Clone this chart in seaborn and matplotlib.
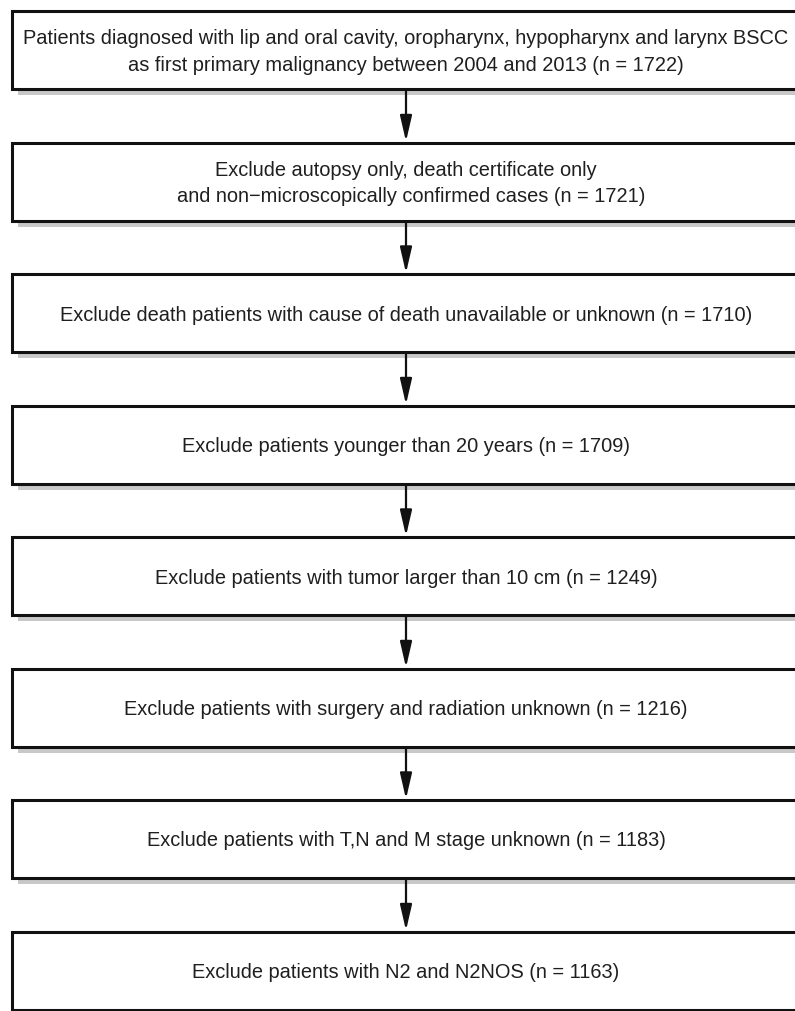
import matplotlib
matplotlib.use('Agg')
import matplotlib.pyplot as plt
from matplotlib.patches import Rectangle
import seaborn as sns

# Flowchart steps (text of each box) and remaining patient counts
STEPS = [
    "Patients diagnosed with lip and oral cavity, oropharynx, hypopharynx and larynx BSCC\n"
    "as first primary malignancy between 2004 and 2013",
    "Exclude autopsy only, death certificate only\n"
    "  and non\u2212microscopically confirmed cases",
    "Exclude death patients with cause of death unavailable or unknown",
    "Exclude patients younger than 20 years",
    "Exclude patients with tumor larger than 10 cm",
    "Exclude patients with surgery and radiation unknown",
    "Exclude patients with T,N and M stage unknown",
    "Exclude patients with N2 and N2NOS",
]
COUNTS = [1722, 1721, 1710, 1709, 1249, 1216, 1183, 1163]

# Layout (pixel units, y grows downward)
W, H = 795, 1012
BOX_LEFT, BOX_RIGHT = 12, 800
BOX_TOP0, PITCH, BOX_H = 12, 131.5, 78
SHADOW = 6

sns.set_theme(style='white')
plt.rcParams['font.family'] = ['Liberation Sans', 'DejaVu Sans']

fig = plt.figure(figsize=(W / 100, H / 100), dpi=100)
ax = fig.add_axes([0, 0, 1, 1])
ax.set_xlim(0, W)
ax.set_ylim(H, 0)
ax.axis('off')

cx = (BOX_LEFT + BOX_RIGHT) / 2
for i, (step, n) in enumerate(zip(STEPS, COUNTS)):
    top = BOX_TOP0 + i * PITCH
    # drop shadow
    ax.add_patch(Rectangle((BOX_LEFT + SHADOW, top + SHADOW), BOX_RIGHT - BOX_LEFT, BOX_H,
                           facecolor='#c8c8c8', edgecolor='none', zorder=1))
    ax.add_patch(Rectangle((BOX_LEFT, top), BOX_RIGHT - BOX_LEFT, BOX_H,
                           facecolor='white', edgecolor='#111111', linewidth=2.2, zorder=2))
    ax.text(cx, top + BOX_H / 2 + 1, f"{step} (n = {n})", ha='center', va='center',
            fontsize=14.4, color='#1f1f1f', linespacing=1.5, zorder=3)
    if i < len(STEPS) - 1:
        nxt = BOX_TOP0 + (i + 1) * PITCH
        ax.annotate('', xy=(cx, nxt - 1), xytext=(cx, top + BOX_H + 1),
                    arrowprops=dict(arrowstyle='-|>,head_length=1.3,head_width=0.3',
                                    color='#111111', lw=1.6, shrinkA=0, shrinkB=0),
                    zorder=3)

plt.savefig('out.png', dpi=100)
plt.close()
